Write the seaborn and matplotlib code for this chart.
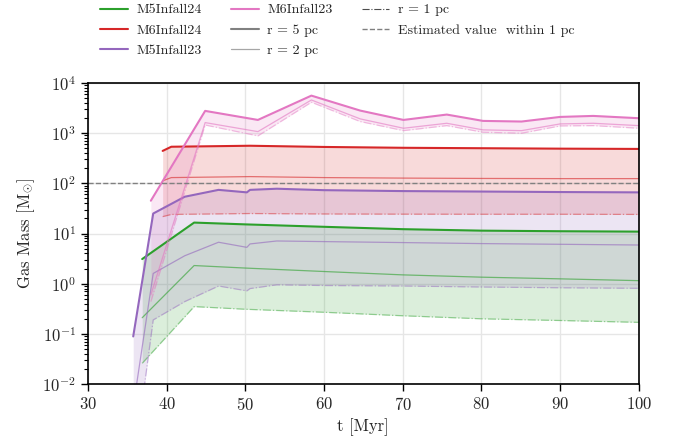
import numpy as np
import pandas as pd
import matplotlib
matplotlib.use("Agg")
import matplotlib.pyplot as plt
import seaborn as sns
from matplotlib.lines import Line2D

# ---------------- data ----------------
# M5Infall24 (green)
t_m5i24 = [36.9, 43.5, 50.0, 60.0, 70.0, 80.0, 90.0, 100.0]
r5_m5i24 = [3.1, 16.5, 15.2, 13.6, 12.2, 11.4, 11.1, 10.9]
r2_m5i24 = [0.21, 2.3, 2.05, 1.75, 1.5, 1.35, 1.25, 1.15]
r1_m5i24 = [0.026, 0.35, 0.31, 0.27, 0.23, 0.20, 0.185, 0.17]

# M6Infall24 (red)
t_m6i24 = [39.5, 40.6, 50.6, 60.0, 70.0, 80.0, 90.0, 100.0]
r5_m6i24 = [442, 535, 560, 530, 510, 500, 490, 484]
r2_m6i24 = [112, 130, 136, 130, 127, 125, 124, 124]
r1_m6i24 = [21.7, 24.0, 25.0, 24.5, 24.3, 24.2, 24.2, 24.0]

# M5Infall23 (purple)
t_m5i23 = [35.76, 38.3, 42.3, 46.6, 50.2, 50.6, 54.0, 60.0, 70.0, 80.0, 90.0, 100.0]
r5_m5i23 = [0.089, 25, 54, 74, 66, 74, 78, 73, 70, 68.5, 67, 66]
r2_m5i23 = [0.0035, 1.6, 3.6, 6.7, 5.3, 6.2, 7.1, 6.9, 6.6, 6.3, 6.1, 5.9]
r1_m5i23 = [0.0002, 0.19, 0.44, 0.9, 0.72, 0.80, 0.95, 0.92, 0.90, 0.86, 0.83, 0.81]

# M6Infall23 (pink)
t_m6i23 = [38.0, 44.9, 51.6, 58.4, 64.6, 70.1, 75.6, 80.2, 85.1, 90.0, 94.2, 100.0]
r5_m6i23 = [45, 2770, 1830, 5580, 2810, 1830, 2340, 1750, 1700, 2100, 2200, 1980]
r2_m6i23 = [0.6, 1620, 1070, 4570, 1920, 1250, 1570, 1160, 1120, 1525, 1570, 1410]
r1_m6i23 = [0.44, 1450, 880, 4120, 1700, 1120, 1410, 1040, 995, 1390, 1410, 1250]

estimated_value = 100.0

sim_names = ["M5Infall24", "M6Infall24", "M5Infall23", "M6Infall23"]
sim_colors = ["#2ca02c", "#d62728", "#9467bd", "#e377c2"]
sim_data = [
    (t_m5i24, r5_m5i24, r2_m5i24, r1_m5i24),
    (t_m6i24, r5_m6i24, r2_m6i24, r1_m6i24),
    (t_m5i23, r5_m5i23, r2_m5i23, r1_m5i23),
    (t_m6i23, r5_m6i23, r2_m6i23, r1_m6i23),
]

# ---------------- style ----------------
sns.set_style("ticks")
plt.rcParams["font.family"] = ["cmr10", "DejaVu Serif"]
plt.rcParams["mathtext.fontset"] = "cm"
plt.rcParams["axes.formatter.use_mathtext"] = True
plt.rcParams["axes.unicode_minus"] = False

fig = plt.figure(figsize=(6.76, 4.41), dpi=100)
ax = fig.add_axes([0.130, 0.129, 0.815, 0.683])

for name, color, (t, r5, r2, r1) in zip(sim_names, sim_colors, sim_data):
    df = pd.DataFrame({"t": t, "r5": r5, "r2": r2, "r1": r1})
    ax.fill_between(df["t"], df["r1"], df["r5"], color=color, alpha=0.17, lw=0)
    sns.lineplot(data=df, x="t", y="r5", ax=ax, color=color, lw=1.5,
                 estimator=None, sort=False, legend=False)
    sns.lineplot(data=df, x="t", y="r2", ax=ax, color=color, lw=0.9, alpha=0.6,
                 estimator=None, sort=False, legend=False)
    sns.lineplot(data=df, x="t", y="r1", ax=ax, color=color, lw=0.9, alpha=0.45,
                 estimator=None, sort=False, legend=False, linestyle="-.")

ax.axhline(estimated_value, color="gray", lw=1.0, ls="--")

ax.set_yscale("log")
ax.set_xlim(30, 100)
ax.set_ylim(1e-2, 1e4)
ax.set_xticks([30, 40, 50, 60, 70, 80, 90, 100])
ax.grid(True, which="major", color="#e6e6e6", lw=1.0)
ax.set_axisbelow(True)
for s in ax.spines.values():
    s.set_color("black")
    s.set_linewidth(1.2)
ax.tick_params(axis="both", which="major", labelsize=12, length=5, width=1.0, color="black")
ax.tick_params(axis="y", which="minor", length=3, width=0.8, color="black")
ax.set_xlabel("t [Myr]", fontsize=12, labelpad=4)
ax.set_ylabel(r"Gas Mass [M$_{\odot}$]", fontsize=12)

handles = [
    Line2D([], [], color=sim_colors[0], lw=1.5),
    Line2D([], [], color=sim_colors[1], lw=1.5),
    Line2D([], [], color=sim_colors[2], lw=1.5),
    Line2D([], [], color=sim_colors[3], lw=1.5),
    Line2D([], [], color="gray", lw=1.5),
    Line2D([], [], color="gray", lw=0.9, alpha=0.7),
    Line2D([], [], color="black", lw=0.8, ls="-.", alpha=0.7),
    Line2D([], [], color="gray", lw=1.0, ls="--"),
]
labels = ["M5Infall24", "M6Infall24", "M5Infall23", "M6Infall23",
          "r = 5 pc", "r = 2 pc", "r = 1 pc", "Estimated value  within 1 pc"]
fig.legend(handles, labels, ncol=3, frameon=False, fontsize=10,
           loc="upper left", bbox_to_anchor=(0.13, 1.02),
           handlelength=2.0, handletextpad=0.6, columnspacing=2.1,
           labelspacing=0.55)

fig.savefig("out.png", dpi=100)
